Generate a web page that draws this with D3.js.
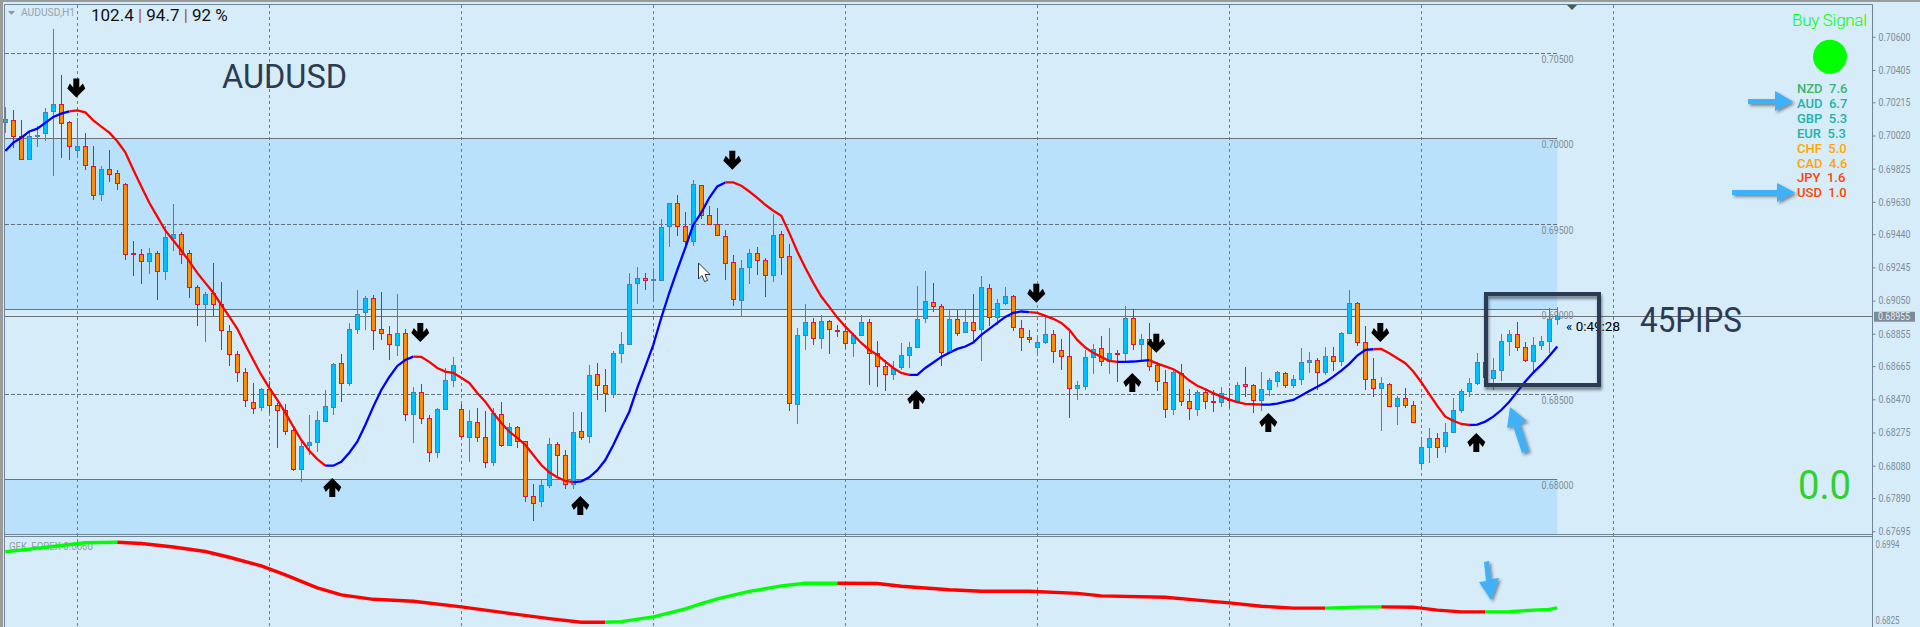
<!DOCTYPE html>
<html><head><meta charset="utf-8">
<script src="https://cdnjs.cloudflare.com/ajax/libs/d3/7.8.5/d3.min.js"></script>
<style>html,body{margin:0;padding:0;background:#d6ecf8;overflow:hidden}svg{display:block}</style>
</head><body><svg id="c" width="1920" height="627"></svg>
<script>
const opens=[.70098,.70109,.70015,.69882,.70015,.70029,.70157,.70204,.70094,.69935,.69953,.69839,.69674,.69823,.69794,.69735,.69324,.69318,.69276,.69324,.69216,.69418,.69441,.69324,.69124,.69028,.69094,.69026,.68871,.68736,.68630,.68453,.68422,.68530,.68436,.68406,.68289,.68059,.68198,.68218,.68340,.68424,.68683,.68565,.68883,.68977,.69061,.68879,.68853,.68786,.68859,.68383,.68512,.68359,.68159,.68412,.68583,.68412,.68247,.68336,.68247,.68099,.68383,.68198,.68306,.68222,.67900,.67865,.67965,.68206,.68141,.67973,.68281,.68255,.68616,.68551,.68500,.68741,.68794,.69147,.69177,.69165,.69173,.69482,.69623,.69488,.69400,.69727,.69551,.69500,.69429,.69271,.69053,.69241,.69324,.69288,.69200,.69439,.69310,.68442,.68847,.68924,.68830,.68930,.68877,.68869,.68800,.68847,.68924,.68741,.68663,.68618,.68653,.68730,.68777,.68947,.69041,.69018,.68747,.68941,.68865,.68923,.68882,.69123,.68953,.69033,.69076,.68888,.68835,.68776,.68806,.68853,.68759,.68724,.68533,.68547,.68718,.68771,.68692,.68739,.68741,.68947,.68794,.68824,.68667,.68571,.68412,.68624,.68459,.68412,.68512,.68459,.68451,.68469,.68461,.68559,.68553,.68463,.68530,.68575,.68624,.68551,.68588,.68688,.68700,.68628,.68724,.68694,.68859,.69035,.68806,.68588,.68535,.68559,.68429,.68476,.68435,.68094,.68188,.68241,.68192,.68275,.68406,.68518,.68565,.68686,.68594,.68641,.68812,.68853,.68776,.68692,.68788,.68812,.68939];
const highs=[.70188,.70172,.70113,.70045,.70074,.70182,.70643,.70378,.70108,.70123,.70035,.69957,.69843,.69937,.69819,.69741,.69402,.69353,.69359,.69343,.69490,.69619,.69453,.69349,.69143,.69102,.69271,.69159,.68908,.68755,.68653,.68565,.68536,.68579,.68447,.68443,.68300,.68222,.68379,.68402,.68526,.68683,.68737,.68918,.69114,.69079,.69084,.69100,.68902,.69090,.68883,.68541,.68559,.68377,.68418,.68653,.68718,.68443,.68408,.68418,.68402,.68418,.68453,.68330,.68314,.68226,.67973,.67996,.68241,.68218,.68173,.68394,.68394,.68673,.68683,.68649,.68751,.68867,.69212,.69247,.69212,.69241,.69529,.69623,.69672,.69570,.69761,.69731,.69608,.69594,.69467,.69320,.69290,.69355,.69365,.69300,.69561,.69461,.69382,.68888,.69030,.68947,.68963,.68937,.68908,.68888,.68859,.68963,.68941,.68814,.68702,.68696,.68800,.68806,.69137,.69222,.69153,.69030,.69000,.68996,.68996,.69090,.69196,.69147,.69059,.69129,.69084,.68937,.68878,.68843,.68957,.68878,.68825,.68884,.68579,.68761,.68796,.68843,.68888,.68761,.69020,.69000,.68855,.68918,.68692,.68643,.68635,.68678,.68530,.68522,.68526,.68522,.68545,.68535,.68573,.68659,.68561,.68631,.68594,.68637,.68629,.68614,.68771,.68747,.68712,.68776,.68776,.68863,.69110,.69043,.68898,.68710,.68600,.68565,.68490,.68535,.68461,.68231,.68300,.68271,.68329,.68476,.68529,.68594,.68741,.68702,.68712,.68853,.68878,.68925,.68804,.68839,.68843,.69006,.69011];
const lows=[.70035,.69947,.69882,.69882,.69951,.69986,.69780,.69886,.69874,.69898,.69816,.69643,.69633,.69745,.69698,.69290,.69192,.69145,.69208,.69051,.69169,.69339,.69267,.69065,.68898,.68804,.68961,.68761,.68663,.68569,.68422,.68385,.68404,.68389,.68181,.68263,.68051,.67987,.68144,.68163,.68334,.68379,.68457,.68551,.68855,.68879,.68761,.68820,.68702,.68722,.68345,.68216,.68326,.68099,.68128,.68405,.68540,.68242,.68099,.68222,.68065,.68079,.68187,.68193,.68183,.67869,.67757,.67839,.67947,.68006,.67941,.67941,.68232,.68212,.68467,.68398,.68475,.68683,.68790,.69031,.69114,.69051,.69165,.69363,.69427,.69359,.69369,.69531,.69498,.69427,.69173,.69020,.68961,.69147,.69198,.69069,.69157,.69198,.68402,.68326,.68757,.68790,.68767,.68737,.68834,.68767,.68716,.68843,.68555,.68540,.68516,.68581,.68645,.68653,.68771,.68918,.68981,.68663,.68737,.68843,.68863,.68810,.68698,.68898,.68908,.69023,.68874,.68751,.68800,.68735,.68794,.68686,.68643,.68363,.68463,.68522,.68620,.68663,.68620,.68569,.68682,.68757,.68692,.68639,.68516,.68363,.68375,.68428,.68349,.68369,.68414,.68398,.68424,.68418,.68447,.68486,.68392,.68404,.68490,.68541,.68535,.68535,.68555,.68624,.68522,.68614,.68639,.68667,.68853,.68784,.68522,.68482,.68286,.68427,.68320,.68416,.68329,.68055,.68094,.68128,.68157,.68270,.68392,.68482,.68555,.68545,.68525,.68580,.68727,.68751,.68692,.68633,.68761,.68741,.68908];
const closes=[.70113,.70015,.69882,.70015,.70019,.70153,.70200,.70094,.69953,.69957,.69841,.69670,.69823,.69794,.69735,.69324,.69318,.69276,.69324,.69216,.69418,.69441,.69324,.69124,.69024,.69088,.69028,.68875,.68736,.68630,.68465,.68418,.68530,.68436,.68406,.68283,.68057,.68195,.68218,.68347,.68430,.68677,.68565,.68883,.68971,.69061,.68875,.68857,.68794,.68859,.68383,.68512,.68359,.68159,.68412,.68583,.68671,.68253,.68342,.68247,.68098,.68389,.68198,.68306,.68222,.67898,.67859,.67961,.68206,.68141,.67971,.68276,.68247,.68612,.68553,.68506,.68741,.68794,.69147,.69177,.69165,.69171,.69482,.69618,.69486,.69400,.69735,.69551,.69500,.69433,.69271,.69053,.69241,.69324,.69282,.69200,.69435,.69306,.68447,.68847,.68924,.68830,.68930,.68883,.68871,.68800,.68847,.68924,.68741,.68663,.68614,.68653,.68726,.68777,.68941,.69047,.69016,.68747,.68941,.68859,.68923,.68876,.69129,.68953,.69035,.69076,.68894,.68835,.68824,.68806,.68853,.68753,.68722,.68535,.68549,.68718,.68765,.68694,.68741,.68733,.68947,.68794,.68824,.68667,.68571,.68412,.68629,.68459,.68418,.68512,.68459,.68453,.68502,.68465,.68553,.68549,.68463,.68530,.68582,.68629,.68551,.68588,.68688,.68700,.68628,.68724,.68694,.68859,.69035,.68806,.68588,.68535,.68565,.68429,.68476,.68433,.68333,.68188,.68241,.68186,.68275,.68406,.68518,.68565,.68686,.68600,.68641,.68812,.68853,.68776,.68698,.68788,.68812,.68941,.68959];
const maValues=[.69929,.69978,.70007,.70044,.70060,.70094,.70129,.70148,.70162,.70168,.70156,.70109,.70072,.70037,.69986,.69921,.69819,.69721,.69625,.69543,.69462,.69403,.69344,.69280,.69213,.69154,.69096,.69025,.68956,.68884,.68790,.68701,.68613,.68537,.68466,.68392,.68309,.68231,.68168,.68119,.68080,.68080,.68103,.68156,.68221,.68319,.68427,.68525,.68601,.68666,.68701,.68721,.68719,.68690,.68654,.68633,.68625,.68597,.68566,.68507,.68456,.68390,.68331,.68280,.68243,.68202,.68143,.68084,.68041,.68012,.67990,.67984,.67988,.68012,.68054,.68113,.68202,.68302,.68397,.68537,.68662,.68790,.68949,.69096,.69231,.69360,.69496,.69566,.69654,.69721,.69744,.69744,.69725,.69691,.69654,.69613,.69578,.69548,.69448,.69338,.69243,.69154,.69074,.69013,.68950,.68897,.68849,.68801,.68760,.68731,.68692,.68654,.68625,.68613,.68613,.68654,.68686,.68719,.68743,.68766,.68780,.68803,.68849,.68884,.68919,.68954,.68978,.68986,.68982,.68978,.68960,.68943,.68919,.68878,.68819,.68774,.68743,.68719,.68696,.68690,.68690,.68692,.68696,.68700,.68680,.68664,.68647,.68619,.68580,.68550,.68529,.68506,.68486,.68468,.68453,.68443,.68441,.68439,.68439,.68444,.68456,.68466,.68492,.68519,.68544,.68570,.68603,.68639,.68678,.68727,.68760,.68764,.68766,.68741,.68711,.68682,.68633,.68570,.68501,.68431,.68368,.68344,.68325,.68319,.68321,.68339,.68368,.68407,.68456,.68515,.68574,.68627,.68672,.68725,.68780];
const maTurns=[0,8,40,51,71,90,113,128,139,143,157,171,183,194];
const maColors=["#0000ff","#ff0000"];
const gfkIndex=[0,3,7,10,14,17,21,25,28,32,35,39,42,46,51,57,63,68,72,75,77,81,85,87,89,93,97,100,104,109,112,118,122,128,134,137,145,149,153,157,161,165,169,172,176,179,182,185,188,191,193,194];
const gfkValues=[.69769,.69825,.69907,.69969,.69978,.69951,.69873,.69773,.69645,.69452,.69252,.68963,.68808,.68710,.68668,.68541,.68397,.68282,.68200,.68200,.68213,.68319,.68497,.68612,.68719,.68885,.69008,.69068,.69068,.69061,.69001,.68923,.68890,.68888,.68841,.68786,.68757,.68692,.68630,.68555,.68513,.68513,.68537,.68541,.68535,.68470,.68430,.68430,.68435,.68470,.68486,.68519];
const gfkTurns=[0,14,75,104,165,172,185,194];
const gfkColors=["#00ff00","#ff0000"];
const signalIndex=[9,41,52,72,91,114,129,141,144,158,172,184];
const signalPrice=[.70243,.68007,.68807,.67902,.69819,.68525,.69037,.68625,.68743,.68390,.68807,.68272];
const signalDir=["down","up","down","up","down","up","down","up","down","up","down","up"];
const axisTicks=[.70600,.70405,.70215,.70020,.69825,.69630,.69440,.69245,.69050,.68855,.68665,.68470,.68275,.68080,.67890,.67695];
const solidLevels=[.70,.69,.68];
const dashedLevels=[.705,.695,.685];
const levelLabels=[.705,.70,.695,.69,.685,.68];
const gridIndex=[9,33,57,81,105,129,153,177,201];
const lowTicks=[.6994,.6825];
const currentPrice=.68955;
const currencies=["NZD","AUD","GBP","EUR","CHF","CAD","JPY","USD"];
const strengths=[7.6,6.7,5.3,5.3,5.0,4.6,1.6,1.0];
const currencyColors=["#3cb371","#20b2aa","#20b2aa","#20b2aa","#ffa500","#ffa500","#ff4500","#ff4500"];

const svg=d3.select("#c");
const x=d3.scaleLinear().domain([0,194]).range([5.3,1557.3]);
const y=d3.scaleLinear().domain([.68,.705]).range([479.3,53.8]);
const yLow=d3.scaleLinear().domain([.6825,.6994]).range([620,544]);
const snap=v=>Math.floor(v)+.5;
const LIGHT="#d6ecf8",BAND="#b9e1fb",FRAME="#6f8494",LABEL="#7f8c99",SANS="Roboto,'Liberation Sans',sans-serif";
const defs=svg.append("defs");
const sh=(id,dx,dy,s,o)=>defs.append("filter").attr("id",id).attr("x","-30%").attr("y","-30%").attr("width","170%").attr("height","170%")
  .append("feDropShadow").attr("dx",dx).attr("dy",dy).attr("stdDeviation",s).attr("flood-color","#223").attr("flood-opacity",o);
sh("shA",1,3,1.6,.55);sh("shB",2,2,1.6,.5);

// frame + panes
svg.append("rect").attr("width",1920).attr("height",627).attr("fill",LIGHT);
svg.append("rect").attr("width",1920).attr("height",2).attr("fill","#9b9b9b");
svg.append("rect").attr("width",3).attr("height",627).attr("fill","#9b9b9b");
svg.append("rect").attr("x",5).attr("y",snap(y(.70))).attr("width",x(194)-5).attr("height",snap(y(.69))-snap(y(.70))).attr("fill",BAND);
svg.append("rect").attr("x",5).attr("y",snap(y(.68))).attr("width",x(194)-5).attr("height",534-snap(y(.68))).attr("fill",BAND);

// grid
svg.append("g").selectAll("line").data(gridIndex).join("line")
  .attr("x1",d=>snap(x(d))).attr("x2",d=>snap(x(d))).attr("y1",5).attr("y2",627)
  .attr("stroke","#5b8496").attr("stroke-dasharray","3,3");
svg.append("g").selectAll("line").data(dashedLevels).join("line")
  .attr("x1",5).attr("x2",x(194)).attr("y1",d=>snap(y(d))).attr("y2",d=>snap(y(d)))
  .attr("stroke","#66727e").attr("stroke-dasharray","4,2");
svg.append("g").selectAll("line").data(solidLevels).join("line")
  .attr("x1",5).attr("x2",x(194)).attr("y1",d=>snap(y(d))).attr("y2",d=>snap(y(d)))
  .attr("stroke","#6a7278");
svg.append("line").attr("x1",5).attr("x2",1872).attr("y1",snap(y(currentPrice))).attr("y2",snap(y(currentPrice))).attr("stroke","#6a7278");
svg.append("g").selectAll("text").data(levelLabels).join("text")
  .attr("x",1541.5).attr("y",d=>snap(y(d))+9).text(d=>d3.format(".5f")(d))
  .attr("font-family",SANS).attr("font-size",10.5).attr("fill",LABEL).attr("textLength",32).attr("lengthAdjust","spacingAndGlyphs");

// candles
const idx=d3.range(opens.length);
const up=i=>closes[i]>=opens[i];
const wickCol=i=>up(i)?"#4682b4":"#dc143c";
const cg=svg.append("g").attr("shape-rendering","crispEdges");
cg.selectAll("line").data(idx).join("line")
  .attr("x1",i=>snap(x(i))).attr("x2",i=>snap(x(i))).attr("y1",i=>y(highs[i])).attr("y2",i=>y(lows[i])).attr("stroke",wickCol);
cg.selectAll("rect").data(idx).join("rect")
  .attr("x",i=>snap(x(i))-2).attr("width",4)
  .attr("y",i=>snap(y(Math.max(opens[i],closes[i]))))
  .attr("height",i=>Math.max(1,Math.round(Math.abs(y(opens[i])-y(closes[i])))))
  .attr("fill",i=>up(i)?"#00bfff":"#ff8c00").attr("stroke",wickCol);

// moving average
const maLine=d3.line().x(i=>x(i)).y(i=>y(maValues[i]));
maTurns.slice(0,-1).forEach((s,k)=>{
  svg.append("path").attr("d",maLine(d3.range(s,maTurns[k+1]+1))).attr("fill","none")
    .attr("stroke",maColors[k%2]).attr("stroke-width",2.3);
});

// signal arrows
const arrowD=d3.line()([[-3,-19],[3,-19],[3,-10],[6.5,-14],[9,-9],[0,0],[-9,-9],[-6.5,-14],[-3,-10]])+"Z";
svg.append("g").selectAll("path").data(signalIndex).join("path")
  .attr("d",arrowD).attr("fill","#000")
  .attr("transform",(d,k)=>`translate(${x(d)-1},${y(signalPrice[k])})`+(signalDir[k]==="up"?" scale(1,-1)":""));

// right axis
const axis=d3.axisRight(y).tickValues(axisTicks).tickFormat(d3.format(".5f")).tickSize(3).tickPadding(3);
const ax=svg.append("g").attr("transform","translate(1872.5,0)").call(axis);
ax.select(".domain").remove();
const axisLow=d3.axisRight(yLow).tickValues(lowTicks).tickFormat(d3.format(".4f")).tickSize(0).tickPadding(3);
const axL=svg.append("g").attr("transform","translate(1872.5,0)").call(axisLow);
axL.select(".domain").remove();
svg.selectAll(".tick line").attr("stroke",FRAME);
svg.selectAll(".tick text").attr("font-family",SANS).attr("font-size",10.5).attr("fill",LABEL).attr("textLength",32).attr("lengthAdjust","spacingAndGlyphs");
axL.selectAll(".tick text").attr("textLength",24);

// borders
svg.append("path").attr("d","M4.5,627V4.5H1872.5V627").attr("fill","none").attr("stroke",FRAME);
svg.append("path").attr("d","M4.5,534.5H1872.5M4.5,536.5H1872.5").attr("fill","none").attr("stroke",FRAME);
svg.append("path").attr("d","M1567,5H1577L1572,10Z").attr("fill","#555");

// current price tag
svg.append("rect").attr("x",1874).attr("y",y(currentPrice)-5).attr("width",41).attr("height",10).attr("fill","#7f8b99");
svg.append("text").attr("x",1878).attr("y",y(currentPrice)+3.5).text(d3.format(".5f")(currentPrice))
  .attr("font-family",SANS).attr("font-size",10.5).attr("fill","#e8eef3").attr("textLength",32).attr("lengthAdjust","spacingAndGlyphs");

// lower pane
svg.append("text").attr("x",9).attr("y",549.5).text("GFK_FOREX 0.6860")
  .attr("font-family",SANS).attr("font-size",11).attr("fill","#8e9ba8").attr("textLength",84).attr("lengthAdjust","spacingAndGlyphs");
const gfkLine=d3.line().x(k=>x(gfkIndex[k])).y(k=>yLow(gfkValues[k]));
gfkTurns.slice(0,-1).forEach((s,k)=>{
  const a=gfkIndex.indexOf(s),b=gfkIndex.indexOf(gfkTurns[k+1]);
  svg.append("path").attr("d",gfkLine(d3.range(a,b+1))).attr("fill","none")
    .attr("stroke",gfkColors[k%2]).attr("stroke-width",3.4);
});

// header
svg.append("path").attr("d","M8,11H15L11.5,15Z").attr("fill","#8e99a4");
svg.append("text").attr("x",21).attr("y",16).text("AUDUSD,H1").attr("font-family",SANS).attr("font-size",10).attr("fill","#98a4af").attr("textLength",54).attr("lengthAdjust","spacingAndGlyphs");
const hdr=svg.append("text").attr("x",91).attr("y",21).attr("font-family",SANS).attr("font-size",17).attr("fill","#111");
["102.4 ","|"," 94.7 ","|"," 92 %"].forEach((t,k)=>hdr.append("tspan").text(t).attr("fill",k%2?"#a5620c":"#111").attr("xml:space","preserve"));

// big text
const INK="#2c3a52";
svg.append("text").attr("x",222).attr("y",88).text("AUDUSD").attr("font-family",SANS).attr("font-size",33).attr("fill",INK).attr("textLength",125).attr("lengthAdjust","spacingAndGlyphs");
svg.append("text").attr("x",1640).attr("y",332).text("45PIPS").attr("font-family",SANS).attr("font-size",35).attr("fill",INK).attr("textLength",102).attr("lengthAdjust","spacingAndGlyphs");
svg.append("text").attr("x",1798).attr("y",499).text("0.0").attr("font-family",SANS).attr("font-size",40).attr("fill","#2fd12f").attr("textLength",53).attr("lengthAdjust","spacingAndGlyphs");

// cursor + countdown + box
svg.append("path").attr("d",d3.line()([[698.5,263],[698.5,279],[702,275.5],[704.5,281.5],[707.5,280.5],[705,274.5],[710,274.5]])+"Z").attr("fill","#fff").attr("stroke","#333");
svg.append("text").attr("x",1566).attr("y",331).text("« 0:49:28").attr("font-family",SANS).attr("font-size",13).attr("fill","#000").attr("textLength",54).attr("lengthAdjust","spacingAndGlyphs");
svg.append("rect").attr("x",1486).attr("y",294).attr("width",113).attr("height",91).attr("fill","none").attr("stroke",INK).attr("stroke-width",4).attr("filter","url(#shA)");

// signal panel
svg.append("text").attr("x",1792).attr("y",26).text("Buy Signal").attr("font-family",SANS).attr("font-size",17).attr("font-weight",300).attr("fill","#00ff00").attr("textLength",75).attr("lengthAdjust","spacing");
svg.append("circle").attr("cx",1830).attr("cy",56.7).attr("r",17).attr("fill","#00ff00");
svg.append("g").selectAll("text").data(currencies).join("text")
  .attr("x",1797).attr("y",(d,k)=>93+k*14.9)
  .attr("font-family",SANS).attr("font-size",13).attr("font-weight",500).attr("fill",(d,k)=>currencyColors[k]).attr("xml:space","preserve")
  .text((d,k)=>d+"  "+strengths[k].toFixed(1));

// callout arrows
const BLUE="#3fb1f7";
const callouts=[
 [[1748,99],[1775,99],[1775,91],[1793,101.5],[1775,111],[1775,104],[1748,104]],
 [[1732,190],[1777,190],[1777,183],[1795,192.5],[1777,202],[1777,195],[1732,195]],
 [[1510,407],[1527,421],[1520,423],[1529,451],[1522,453],[1513,426],[1507,428]],
 [[1484,562],[1489,561],[1491,579],[1499,578],[1491,600],[1479,582],[1486,581]]
];
svg.append("g").selectAll("path").data(callouts).join("path")
  .attr("d",d=>d3.line()(d)+"Z").attr("fill",BLUE).attr("filter","url(#shB)");
</script></body></html>
